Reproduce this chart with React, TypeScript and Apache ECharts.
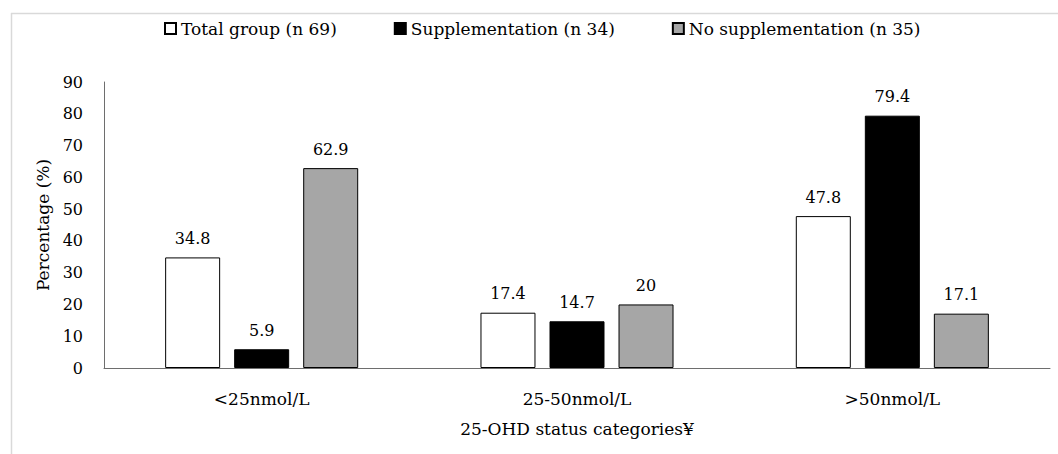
import React, { useEffect, useRef } from "react";
import * as echarts from "echarts";

// 25-OHD status categories and the share of each group (%) falling in them
const categories = ["<25nmol/L", "25-50nmol/L", ">50nmol/L"];
const totalGroup = [34.8, 17.4, 47.8];
const supplementation = [5.9, 14.7, 79.4];
const noSupplementation = [62.9, 20, 17.1];

const seriesNames = [
  "Total group (n 69)",
  "Supplementation (n 34)",
  "No supplementation (n 35)",
];
const yTicks = { min: 0, max: 90, interval: 10 };

const FONT = "'DejaVu Serif', serif";

export default function App() {
  const ref = useRef<HTMLDivElement>(null);

  useEffect(() => {
    if (!ref.current) return;
    const chart = echarts.init(ref.current, null, { renderer: "svg" });

    const barStyle = (color: string) => ({
      color,
      borderColor: "#000",
      borderWidth: 1,
    });

    const label = {
      show: true,
      position: "top" as const,
      distance: 11,
      fontFamily: FONT,
      fontSize: 16,
      color: "#000",
    };

    const makeSeries = (name: string, data: number[], color: string) => ({
      name,
      type: "bar" as const,
      data,
      barWidth: 55,
      barGap: "25.5%",
      itemStyle: barStyle(color),
      label,
    });

    chart.setOption({
      animation: false,
      backgroundColor: "#fff",
      textStyle: { fontFamily: FONT },
      legend: {
        top: 15,
        left: 159,
        icon: "rect",
        itemWidth: 11,
        itemHeight: 11,
        itemGap: 57,
        textStyle: { fontFamily: FONT, fontSize: 17, color: "#000" },
        data: seriesNames,
      },
      grid: { left: 104, right: 8, top: 82, bottom: 86, containLabel: false },
      xAxis: {
        type: "category",
        data: categories,
        name: "25-OHD status categories¥",
        nameLocation: "middle",
        nameGap: 52,
        nameTextStyle: { fontFamily: FONT, fontSize: 17, color: "#000" },
        axisLine: { lineStyle: { color: "#6e6e6e", width: 1 } },
        axisTick: { show: false },
        axisLabel: { margin: 22, fontFamily: FONT, fontSize: 17, color: "#000" },
      },
      yAxis: {
        type: "value",
        min: yTicks.min,
        max: yTicks.max,
        interval: yTicks.interval,
        name: "Percentage (%)",
        nameLocation: "middle",
        nameGap: 50,
        nameTextStyle: { fontFamily: FONT, fontSize: 17, color: "#000" },
        axisLine: { show: true, lineStyle: { color: "#6e6e6e", width: 1 } },
        axisTick: { show: false },
        splitLine: { show: false },
        axisLabel: { margin: 21, fontFamily: FONT, fontSize: 16, color: "#000" },
      },
      series: [
        makeSeries(seriesNames[0], totalGroup, "#ffffff"),
        makeSeries(seriesNames[1], supplementation, "#000000"),
        makeSeries(seriesNames[2], noSupplementation, "#a6a6a6"),
      ],
      graphic: [
        {
          type: "line",
          shape: { x1: 11, y1: 13.5, x2: 1058, y2: 13.5 },
          style: { stroke: "#d9d9d9", lineWidth: 1.5 },
          silent: true,
        },
        {
          type: "line",
          shape: { x1: 11.5, y1: 13, x2: 11.5, y2: 454 },
          style: { stroke: "#d9d9d9", lineWidth: 1.5 },
          silent: true,
        },
      ],
    });

    return () => chart.dispose();
  }, []);

  return (
    <div
      ref={ref}
      style={{ position: "fixed", left: 0, top: 0, width: 1058, height: 454 }}
    />
  );
}
